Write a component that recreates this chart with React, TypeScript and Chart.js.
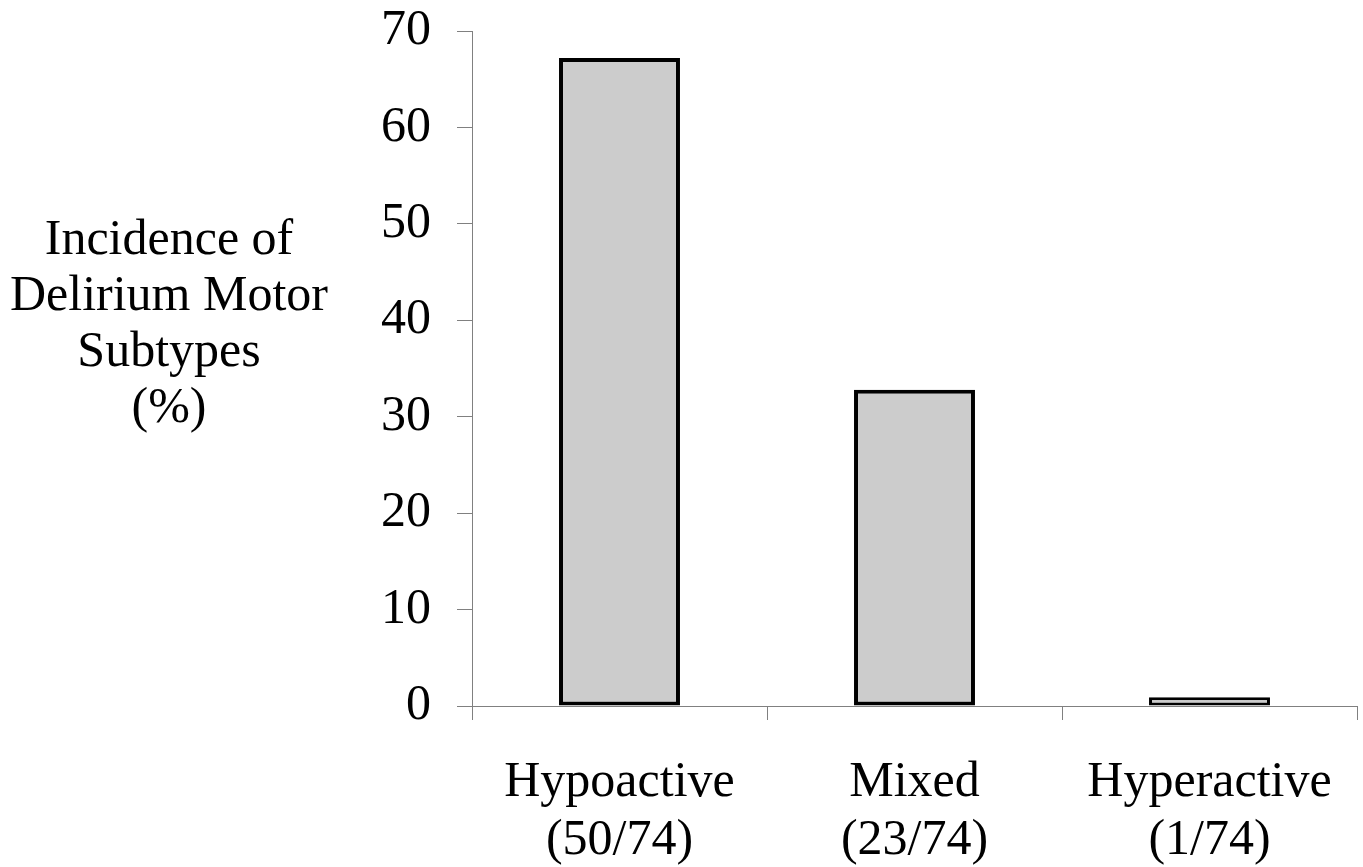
import React, { useEffect, useRef } from "react";
import { Chart, registerables } from "chart.js";

Chart.register(...registerables);

const categories: string[][] = [
  ["Hypoactive", "(50/74)"],
  ["Mixed", "(23/74)"],
  ["Hyperactive", "(1/74)"],
];
const incidence: number[] = [67.2, 32.8, 0.9];
const yTitleLines: string[] = ["Incidence of", "Delirium Motor", "Subtypes", "(%)"];

const FONT = '"Liberation Serif", "Times New Roman", serif';

export default function App() {
  const ref = useRef<HTMLCanvasElement | null>(null);

  useEffect(() => {
    if (!ref.current) return;
    const titlePlugin = {
      id: "yTitleHorizontal",
      afterDraw(chart: any) {
        const ctx = chart.ctx;
        ctx.save();
        ctx.font = `50px ${FONT}`;
        ctx.fillStyle = "#000";
        ctx.textAlign = "center";
        ctx.textBaseline = "middle";
        const lh = 56;
        const startY = 241;
        yTitleLines.forEach((t, i) => ctx.fillText(t, 169, startY + i * lh));
        ctx.restore();
      },
    };
    const chart = new Chart(ref.current, {
      type: "bar",
      data: {
        labels: categories,
        datasets: [
          {
            data: incidence,
            backgroundColor: "#cccccc",
            borderColor: "#000000",
            borderWidth: [4, 4, 3],
            borderSkipped: false,
            categoryPercentage: 1,
            barPercentage: 0.41,
          },
        ],
      },
      options: {
        animation: false,
        responsive: false,
        maintainAspectRatio: false,
        layout: { padding: { top: 31, right: 6, left: 0, bottom: 0 } },
        plugins: { legend: { display: false }, tooltip: { enabled: false }, title: { display: false } },
        scales: {
          x: {
            offset: true,
            grid: {
              display: true,
              offset: true,
              drawOnChartArea: false,
              drawTicks: true,
              tickLength: 14,
              color: "#808080",
              lineWidth: 1,
            },
            border: { display: true, color: "#808080", width: 1 },
            ticks: {
              color: "#000",
              font: { family: FONT, size: 50, lineHeight: 1.16 },
              padding: 34,
              maxRotation: 0,
              autoSkip: false,
            },
            afterFit(scale: any) {
              scale.height = 867 - 706;
              scale.paddingLeft = 0;
              scale.paddingRight = 0;
            },
          },
          y: {
            min: 0,
            max: 70,
            ticks: {
              stepSize: 10,
              color: "#000",
              font: { family: FONT, size: 50 },
              padding: 26,
            },
            grid: {
              display: true,
              drawOnChartArea: false,
              drawTicks: true,
              tickLength: 15,
              color: "#808080",
              lineWidth: 1,
            },
            border: { display: true, color: "#808080", width: 1 },
            afterFit(scale: any) {
              scale.width = 472;
              scale.paddingTop = 0;
              scale.paddingBottom = 0;
            },
          },
        },
      },
      plugins: [titlePlugin],
    });
    return () => chart.destroy();
  }, []);

  return (
    <div style={{ position: "absolute", left: 0, top: 0, width: 1363, height: 867, background: "#fff" }}>
      <canvas ref={ref} width={1363} height={867} style={{ display: "block", width: 1363, height: 867 }} />
    </div>
  );
}
